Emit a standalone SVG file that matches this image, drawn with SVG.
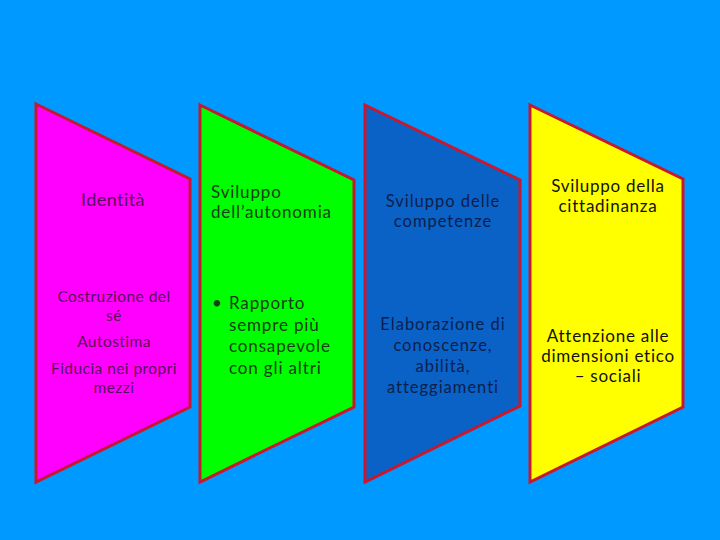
<svg xmlns="http://www.w3.org/2000/svg" width="720" height="540" viewBox="0 0 720 540">
<style>
.sh{stroke:#C8182E;stroke-width:3;stroke-linejoin:miter}
text{font-family:Lato,"Liberation Sans",sans-serif}
.c{text-anchor:middle}
.t1{fill:#5A0E5A;letter-spacing:0.45px}
.t2{fill:#173D17;letter-spacing:0.85px}
.t3{fill:#0C1E4C;letter-spacing:1px}
.t4{fill:#111111;letter-spacing:0.75px}
</style>
<rect x="0" y="0" width="720" height="540" fill="#0099FF"/>
<g id="node-identita">
<polygon class="sh" fill="#FF00FF" points="36,104 190,179 190,407 36,482"/>
<text class="c t1" x="113" y="206" font-size="18">Identità</text>
<text class="c t1" x="114" y="302" font-size="15.5">Costruzione del</text>
<text class="c t1" x="114" y="321" font-size="15.5">sé</text>
<text class="c t1" x="114" y="347" font-size="15.5">Autostima</text>
<text class="c t1" x="114" y="374" font-size="15.5">Fiducia nei propri</text>
<text class="c t1" x="114" y="393" font-size="15.5">mezzi</text>
</g>
<g id="node-autonomia">
<polygon class="sh" fill="#00FF00" points="200,105 354,180 354,407 200,482"/>
<text class="t2" x="211" y="198" font-size="17">Sviluppo</text>
<text class="t2" x="211" y="218" font-size="17">dell’autonomia</text>
<text class="t2" x="212" y="309" font-size="17">•</text>
<text class="t2" x="229" y="309" font-size="17">Rapporto</text>
<text class="t2" x="229" y="331" font-size="17">sempre più</text>
<text class="t2" x="229" y="352" font-size="17">consapevole</text>
<text class="t2" x="229" y="374" font-size="17">con gli altri</text>
</g>
<g id="node-competenze">
<polygon class="sh" fill="#0A62C6" points="365,105 520,180 520,406 365,482"/>
<text class="c t3" x="443" y="207" font-size="16.5">Sviluppo delle</text>
<text class="c t3" x="443" y="227" font-size="16.5">competenze</text>
<text class="c t3" x="443" y="330" font-size="16.5">Elaborazione di</text>
<text class="c t3" x="443" y="351" font-size="16.5">conoscenze,</text>
<text class="c t3" x="443" y="372" font-size="16.5">abilità,</text>
<text class="c t3" x="443" y="393" font-size="16.5">atteggiamenti</text>
</g>
<g id="node-cittadinanza">
<polygon class="sh" fill="#FFFF00" points="530,105 683,179 683,407 530,482"/>
<text class="c t4" x="608" y="192" font-size="17">Sviluppo della</text>
<text class="c t4" x="608" y="212" font-size="17">cittadinanza</text>
<text class="c t4" x="608" y="342" font-size="17">Attenzione alle</text>
<text class="c t4" x="608" y="362" font-size="17">dimensioni etico</text>
<text class="c t4" x="608" y="382" font-size="17">– sociali</text>
</g>
<g id="connectors"/>
</svg>
